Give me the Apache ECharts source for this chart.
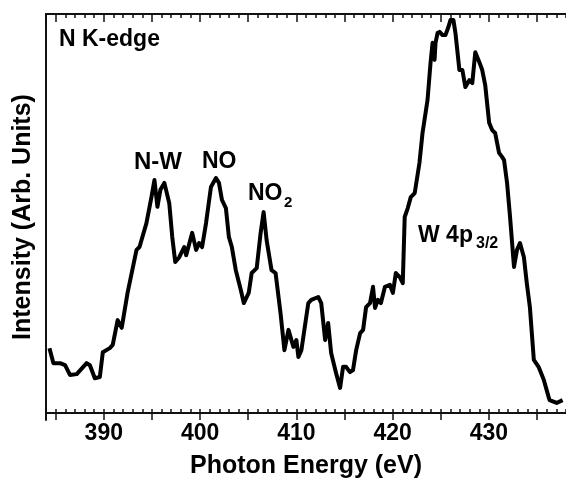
<!DOCTYPE html>
<html>
<head>
<meta charset="utf-8">
<script src="https://cdn.jsdelivr.net/npm/echarts@6/dist/echarts.min.js"></script>
<style>html,body{margin:0;padding:0;background:#fff}#c{width:566px;height:484px}</style>
</head>
<body>
<div id="c"></div>
<script>
// Photon energy (eV)
const energy = [
384.36,384.77,385.46,385.98,386.49,387.19,388.22,388.56,389.07,389.59,
389.90,390.62,390.93,391.44,391.86,392.47,393.40,393.71,394.43,394.95,
395.26,395.57,395.88,396.29,396.80,397.11,397.42,397.84,398.35,398.56,
399.18,399.59,399.90,400.21,400.62,401.13,401.65,401.96,402.27,402.68,
402.99,403.30,403.71,404.23,404.54,405.05,405.36,405.88,406.29,406.60,
406.91,407.42,407.84,408.35,408.76,409.18,409.69,410.00,410.21,410.52,
411.24,411.55,412.27,412.58,412.99,413.30,413.61,414.12,414.54,414.85,
415.15,415.57,415.88,416.21,416.62,416.93,417.24,417.65,417.96,418.17,
418.47,418.78,419.20,419.71,420.02,420.33,420.74,421.05,421.25,421.57,
421.88,422.29,422.39,422.78,423.10,423.62,423.93,424.14,424.35,424.45,
424.66,424.87,425.18,425.48,425.79,426.00,426.31,426.52,426.93,427.24,
427.55,427.96,428.27,428.58,428.99,429.30,429.61,430.02,430.33,430.64,
431.05,431.36,431.57,431.88,432.19,432.60,432.91,433.22,433.63,433.93,
434.25,434.66,435.15,435.69,436.19,436.30,437.03,437.65
];
// Intensity (arb. units)
const intensity = [
17.7,14.0,14.0,13.5,11.1,11.3,14.0,13.5,10.3,10.6,
16.7,17.7,18.5,24.6,22.7,31.3,41.9,42.6,48.5,54.9,
59.1,52.5,56.7,58.4,53.4,45.1,38.9,40.1,42.6,40.6,
46.1,41.9,43.6,42.6,48.5,57.4,59.6,58.4,54.2,52.2,
45.1,42.6,36.9,32.0,28.8,31.3,36.2,37.4,46.1,51.2,
44.3,36.9,36.2,26.4,17.2,22.2,18.0,19.7,15.5,17.2,
28.8,29.6,30.3,28.8,19.7,23.9,16.5,11.6,7.9,13.1,
13.1,11.8,12.3,17.2,21.4,22.2,27.8,28.8,32.8,27.6,
29.6,28.8,32.8,33.3,31.3,36.2,35.2,33.7,50.0,52.2,
54.9,55.9,57.4,63.3,70.7,78.8,87.9,92.9,88.7,92.9,
95.3,95.6,94.8,94.8,96.8,98.5,98.5,95.3,86.2,86.2,
82.0,83.7,83.0,90.6,88.2,86.2,82.5,73.2,71.4,70.7,
65.8,64.8,64.0,58.4,50.0,37.7,41.9,43.6,40.1,33.7,
27.8,14.8,13.1,9.9,5.7,4.9,4.2,4.9
];
const xMin = 384, xMax = 438;
const tickLabels = [390, 400, 410, 420, 430];
const majorStep = 5;

const cats = [];
for (let v = xMin; v <= xMax; v++) cats.push(String(v));
const seriesData = energy.map((e, i) => [e, intensity[i]]);

const FONT = 'Liberation Sans, Arial, sans-serif';
const rect = {left: 46, top: 14, width: 524, height: 406};
const lineCol = '#111';

const minorAxis = (pos, labels) => ({
  type: 'category', gridIndex: 1, data: cats, boundaryGap: false, position: pos,
  axisLine: {show: true, lineStyle: {color: lineCol, width: 2}},
  axisTick: {show: true, inside: true, length: 4, interval: 0, lineStyle: {color: lineCol, width: 1.5}},
  axisLabel: labels ? {
    show: true, margin: 9, color: '#000', fontFamily: FONT, fontWeight: 'bold', fontSize: 23,
    interval: (i, v) => tickLabels.indexOf(+v) >= 0
  } : {show: false},
  splitLine: {show: false},
  name: labels ? 'Photon Energy (eV)' : '',
  nameLocation: 'middle', nameGap: 41,
  nameTextStyle: {color: '#000', fontFamily: FONT, fontWeight: 'bold', fontSize: 25}
});
const majorAxis = (pos) => ({
  type: 'category', gridIndex: 2, data: cats, boundaryGap: false, position: pos,
  axisLine: {show: false},
  axisTick: {show: true, inside: true, length: 8, interval: (i, v) => (+v) % majorStep === 0,
             lineStyle: {color: lineCol, width: 1.5}},
  axisLabel: {show: false}, splitLine: {show: false}
});

const option = {
  animation: false,
  backgroundColor: '#fff',
  grid: [Object.assign({}, rect), Object.assign({}, rect), Object.assign({}, rect)],
  xAxis: [
    {type: 'value', gridIndex: 0, min: xMin, max: xMax, show: false},
    minorAxis('bottom', true), minorAxis('top', false),
    majorAxis('bottom'), majorAxis('top')
  ],
  yAxis: [
    {type: 'value', gridIndex: 0, min: 0, max: 100,
     axisLine: {show: true, lineStyle: {color: lineCol, width: 2}},
     axisTick: {show: false}, axisLabel: {show: false}, splitLine: {show: false},
     name: 'Intensity (Arb. Units)', nameLocation: 'middle', nameGap: 10,
     nameTextStyle: {color: '#000', fontFamily: FONT, fontWeight: 'bold', fontSize: 25}},
    {type: 'value', gridIndex: 1, show: false},
    {type: 'value', gridIndex: 2, show: false}
  ],
  series: [{
    type: 'line', xAxisIndex: 0, yAxisIndex: 0, data: seriesData,
    showSymbol: false, symbol: 'none',
    lineStyle: {color: '#000', width: 4, join: 'round'}
  }],
  graphic: [
    {type: 'text', left: 59, top: 28, style: {text: 'N K-edge', fill: '#000', font: 'bold 23px ' + FONT}},
    {type: 'text', left: 134, top: 150, style: {text: 'N-W', fill: '#000', font: 'bold 24px ' + FONT}},
    {type: 'text', left: 202, top: 150, style: {text: 'NO', fill: '#000', font: 'bold 23px ' + FONT}},
    {type: 'text', left: 248, top: 182, style: {text: 'NO', fill: '#000', font: 'bold 23px ' + FONT}},
    {type: 'text', left: 284, top: 195, style: {text: '2', fill: '#000', font: 'bold 15px ' + FONT}},
    {type: 'text', left: 418, top: 224, style: {text: 'W 4p', fill: '#000', font: 'bold 23px ' + FONT}},
    {type: 'text', left: 476, top: 236, style: {text: '3/2', fill: '#000', font: 'bold 16px ' + FONT}}
  ]
};
echarts.init(document.getElementById('c'), null, {renderer: 'canvas'}).setOption(option);
</script>
</body>
</html>
